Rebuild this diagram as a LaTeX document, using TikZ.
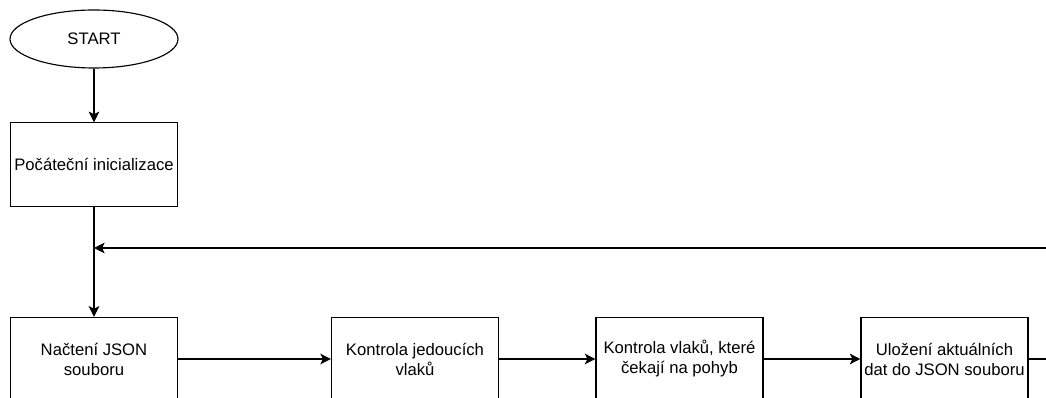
\documentclass[tikz,border=0pt]{standalone}
\usepackage{fontspec}
\setmainfont{Liberation Sans}
\usetikzlibrary{arrows.meta,shapes.geometric}
\begin{document}
\begin{tikzpicture}[x=0.75pt,y=-0.75pt,
  every node/.style={font=\fontsize{12.5}{15}\selectfont},
  box/.style={draw,line width=0.85pt,minimum width=125.25pt,minimum height=62.5pt,inner sep=0pt,align=center},
  term/.style={draw,ellipse,line width=0.85pt,minimum width=126pt,minimum height=43.5pt,inner sep=0pt},
  conn/.style={line width=0.85pt},
  arr/.style={conn,-{Stealth[length=8pt,width=8pt,inset=2pt]}}]
\useasboundingbox (0,0) rectangle (1046,398);
\clip (0,0) rectangle (1046,398);
\node[term] (start) at (94,39) {START};
\node[box] (init) at (94,164.5) {Počáteční inicializace};
\node[box] (load) at (94,359) {Načtení JSON\\souboru};
\node[box] (run) at (415,359) {Kontrola jedoucích\\vlaků};
\node[box] (wait) at (679.5,359) {Kontrola vlaků, které\\čekají na pohyb};
\node[box] (save) at (944.5,359) {Uložení aktuálních\\dat do JSON souboru};
\coordinate (j) at (94,248);
\coordinate (r1) at (1070,359);
\coordinate (r2) at (1070,248);
\draw[arr] (start) -- (init);
\draw[arr] (init) -- (load);
\draw[arr] (load) -- (run);
\draw[arr] (run) -- (wait);
\draw[arr] (wait) -- (save);
\draw[arr] (save.east) -- (r1) -- (r2) -- (j);
\end{tikzpicture}
\end{document}
